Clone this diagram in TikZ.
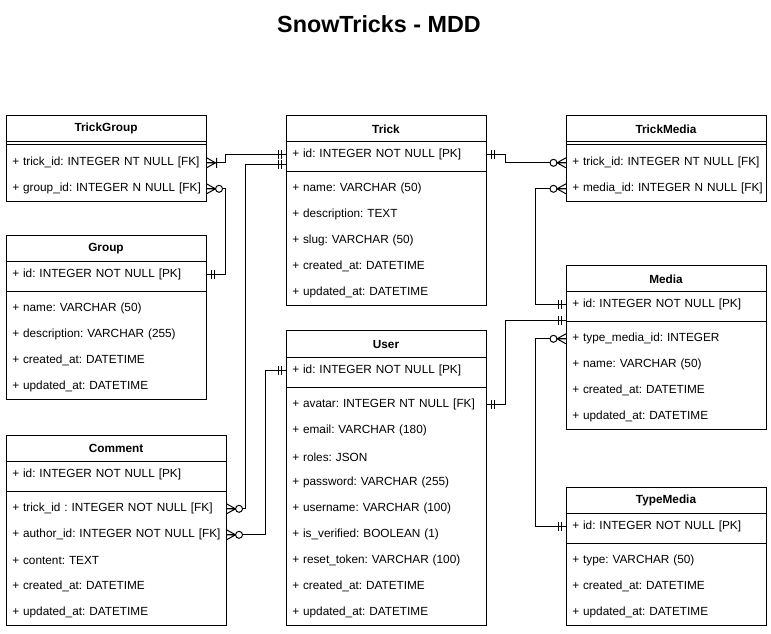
\documentclass[tikz,border=0pt]{standalone}
\usepackage{fontspec}
\setmainfont{Liberation Sans}
\newcommand{\fieldfont}{\fontsize{8.85}{11}\selectfont\frenchspacing}
\frenchspacing
\begin{document}
\begin{tikzpicture}[x=0.75pt,y=-0.75pt,
  ebox/.style={draw=black, line width=0.75pt, fill=white, anchor=north west, inner sep=0pt},
  sepline/.style={draw=black, line width=0.75pt},
  etitle/.style={font=\fieldfont\bfseries, inner sep=0pt, yshift=-0.6pt},
  row/.style={anchor=west, inner xsep=4.5pt, inner ysep=0pt, text width=141pt, align=left, minimum height=19.5pt, font=\fieldfont, yshift=-0.6pt},
  wrow/.style={row, text width=156pt},
  conn/.style={draw=black, line width=0.75pt},
  mk/.style={draw=black, line width=0.75pt},
  mandone/.pic={\draw[mk] (5,-4.5)--(5,4.5) (8,-4.5)--(8,4.5);},
  zeromany/.pic={\draw[mk] (0,-5)--(9,0)--(0,5) (0,0)--(9,0); \draw[mk,fill=white] (12.5,0) circle[radius=3.5];},
  onemany/.pic={\draw[mk] (0,-5)--(9,0)--(0,5) (0,0)--(10,0) (10,-5)--(10,5);}
]
\useasboundingbox (0,0) rectangle (771,633);
\fill[white] (0,0) rectangle (771,633);
\node[font=\fontsize{17.5}{20}\selectfont\bfseries, inner sep=0pt] (title) at (379,24) {SnowTricks - MDD};

% TrickGroup
\node[ebox, minimum width=150pt, minimum height=64.5pt] (tg) at (6,115) {};
\node[etitle] (tg-t) at (106,128) {TrickGroup};
\draw[sepline] (6,141) -- (206,141) (6,144.5) -- (206,144.5);
\node[row] (tg-trick) at (6,162) {\mbox{+ trick\_id: INTEGER NT NULL [FK]}};
\node[row] (tg-group) at (6,188) {\mbox{+ group\_id: INTEGER N NULL [FK]}};

% Trick
\node[ebox, minimum width=150pt, minimum height=142.5pt] (tr) at (286,115) {};
\node[etitle] (tr-t) at (386,128) {Trick};
\draw[sepline] (286,141) -- (486,141) (286,171) -- (486,171);
\node[row] (tr-id) at (286,154) {\mbox{+ id: INTEGER NOT NULL [PK]}};
\node[row] (tr-name) at (286,188) {+ name: VARCHAR (50)};
\node[row] (tr-desc) at (286,214) {+ description: TEXT};
\node[row] (tr-slug) at (286,240) {+ slug: VARCHAR (50)};
\node[row] (tr-cr) at (286,266) {+ created\_at: DATETIME};
\node[row] (tr-up) at (286,292) {+ updated\_at: DATETIME};
\coordinate (tr-in2) at (286,164);

% TrickMedia
\node[ebox, minimum width=150pt, minimum height=64.5pt] (tm) at (566,115) {};
\node[etitle] (tm-t) at (666,128) {TrickMedia};
\draw[sepline] (566,141) -- (766,141) (566,144.5) -- (766,144.5);
\node[row] (tm-trick) at (566,162) {\mbox{+ trick\_id: INTEGER NT NULL [FK]}};
\node[row] (tm-media) at (566,188) {\mbox{+ media\_id: INTEGER N NULL [FK]}};

% Group
\node[ebox, minimum width=150pt, minimum height=123pt] (gr) at (6,235) {};
\node[etitle] (gr-t) at (106,248) {Group};
\draw[sepline] (6,261) -- (206,261) (6,291) -- (206,291);
\node[row] (gr-id) at (6,274) {\mbox{+ id: INTEGER NOT NULL [PK]}};
\node[row] (gr-name) at (6,308) {+ name: VARCHAR (50)};
\node[row] (gr-desc) at (6,334) {+ description: VARCHAR (255)};
\node[row] (gr-cr) at (6,360) {+ created\_at: DATETIME};
\node[row] (gr-up) at (6,386) {+ updated\_at: DATETIME};

% Media
\node[ebox, minimum width=150pt, minimum height=123pt] (md) at (566,265) {};
\node[etitle] (md-t) at (666,278) {Media};
\draw[sepline] (566,291) -- (766,291) (566,321) -- (766,321);
\node[row] (md-id) at (566,304) {\mbox{+ id: INTEGER NOT NULL [PK]}};
\node[row] (md-type) at (566,338) {+ type\_media\_id: INTEGER};
\node[row] (md-name) at (566,364) {+ name: VARCHAR (50)};
\node[row] (md-cr) at (566,390) {+ created\_at: DATETIME};
\node[row] (md-up) at (566,416) {+ updated\_at: DATETIME};
\coordinate (md-in2) at (566,320);

% User
\node[ebox, minimum width=150pt, minimum height=221.25pt] (us) at (286,330) {};
\node[etitle] (us-t) at (386,344) {User};
\draw[sepline] (286,357) -- (486,357) (286,387) -- (486,387);
\node[row] (us-id) at (286,370) {\mbox{+ id: INTEGER NOT NULL [PK]}};
\node[row] (us-avatar) at (286,404) {\mbox{+ avatar: INTEGER NT NULL [FK]}};
\node[row] (us-email) at (286,430) {+ email: VARCHAR (180)};
\node[row] (us-roles) at (286,456) {+ roles: JSON};
\node[row] (us-pw) at (286,482) {+ password: VARCHAR (255)};
\node[row] (us-un) at (286,508) {+ username: VARCHAR (100)};
\node[row] (us-ver) at (286,534) {+ is\_verified: BOOLEAN (1)};
\node[row] (us-tok) at (286,560) {+ reset\_token: VARCHAR (100)};
\node[row] (us-cr) at (286,586) {+ created\_at: DATETIME};
\node[row] (us-up) at (286,612) {+ updated\_at: DATETIME};

% Comment
\node[ebox, minimum width=165pt, minimum height=142.5pt] (cm) at (6,435) {};
\node[etitle] (cm-t) at (116,448) {Comment};
\draw[sepline] (6,461) -- (226,461) (6,491) -- (226,491);
\node[wrow] (cm-id) at (6,474) {\mbox{+ id: INTEGER NOT NULL [PK]}};
\node[wrow] (cm-trick) at (6,508) {\mbox{+ trick\_id : INTEGER NOT NULL [FK]}};
\node[wrow] (cm-author) at (6,534) {\mbox{+ author\_id: INTEGER NOT NULL [FK]}};
\node[wrow] (cm-content) at (6,560) {+ content: TEXT};
\node[wrow] (cm-cr) at (6,586) {+ created\_at: DATETIME};
\node[wrow] (cm-up) at (6,612) {+ updated\_at: DATETIME};

% TypeMedia
\node[ebox, minimum width=150pt, minimum height=103.5pt] (ty) at (566,487) {};
\node[etitle] (ty-t) at (666,500) {TypeMedia};
\draw[sepline] (566,513) -- (766,513) (566,543) -- (766,543);
\node[row] (ty-id) at (566,526) {\mbox{+ id: INTEGER NOT NULL [PK]}};
\node[row] (ty-type) at (566,560) {+ type: VARCHAR (50)};
\node[row] (ty-cr) at (566,586) {+ created\_at: DATETIME};
\node[row] (ty-up) at (566,612) {+ updated\_at: DATETIME};

% Connectors
\draw[conn] (tg-trick.east) -- ++(19,0) |- (tr-id.west);
\draw[conn] (tr-in2) -- ++(-41,0) |- (cm-trick.east);
\draw[conn] (tg-group.east) -- ++(19,0) |- (gr-id.east);
\draw[conn] (us-id.west) -- ++(-21,0) |- (cm-author.east);
\draw[conn] (tr-id.east) -- ++(19,0) |- (tm-trick.west);
\draw[conn] (tm-media.west) -- ++(-31,0) |- (md-id.west);
\draw[conn] (us-avatar.east) -- ++(19,0) |- (md-in2);
\draw[conn] (md-type.west) -- ++(-31,0) |- (ty-id.west);

% Markers
\pic at (tg-trick.east) {onemany};
\pic[xscale=-1] at (tr-id.west) {mandone};
\pic[xscale=-1] at (tr-in2) {mandone};
\pic at (cm-trick.east) {zeromany};
\pic at (tg-group.east) {zeromany};
\pic at (gr-id.east) {mandone};
\pic[xscale=-1] at (us-id.west) {mandone};
\pic at (cm-author.east) {zeromany};
\pic at (tr-id.east) {mandone};
\pic[xscale=-1] at (tm-trick.west) {zeromany};
\pic[xscale=-1] at (tm-media.west) {zeromany};
\pic[xscale=-1] at (md-id.west) {mandone};
\pic at (us-avatar.east) {mandone};
\pic[xscale=-1] at (md-in2) {mandone};
\pic[xscale=-1] at (md-type.west) {zeromany};
\pic[xscale=-1] at (ty-id.west) {mandone};
\end{tikzpicture}
\end{document}
